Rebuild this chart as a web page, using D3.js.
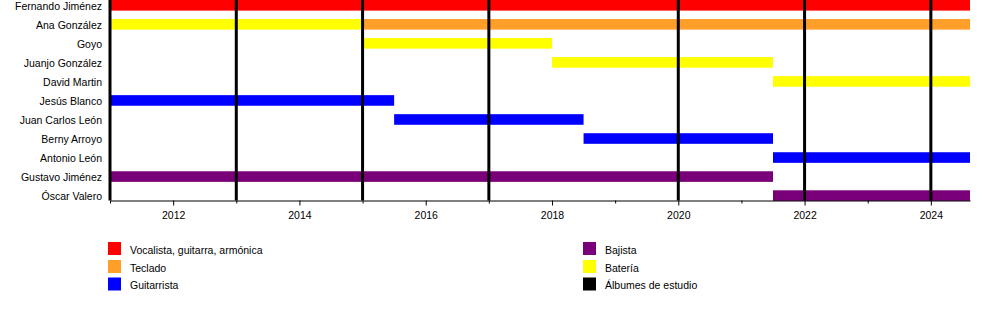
<!DOCTYPE html>
<html>
<head>
<meta charset="utf-8">
<script src="https://cdn.jsdelivr.net/npm/d3@7"></script>
<style>
    body { margin: 0; background: #fff; }
    svg text { font-family: "Liberation Sans", Arial, sans-serif; fill: #000; }
</style>
</head>
<body>
<div id="chart"></div>
<script>
// Band members, top to bottom
const members = [
    'Fernando Jiménez', 'Ana González', 'Goyo', 'Juanjo González', 'David Martin',
    'Jesús Blanco', 'Juan Carlos León', 'Berny Arroyo', 'Antonio León',
    'Gustavo Jiménez', 'Óscar Valero'
];

// Roles and their colours (legend order)
const roles = ['Vocalista, guitarra, armónica', 'Teclado', 'Guitarrista', 'Bajista', 'Batería'];
const roleColors = ['#ff0000', '#ff9f2a', '#0000ff', '#7a007a', '#ffff00'];

// Timeline range
const timelineStart = 2011;
const timelineEnd = 2024.62;

// Membership periods: [member, role, from, to]
const periods = [
    ['Fernando Jiménez', 'Vocalista, guitarra, armónica', 2011, timelineEnd],
    ['Ana González', 'Batería', 2011, 2015],
    ['Ana González', 'Teclado', 2015, timelineEnd],
    ['Goyo', 'Batería', 2015, 2018],
    ['Juanjo González', 'Batería', 2018, 2021.5],
    ['David Martin', 'Batería', 2021.5, timelineEnd],
    ['Jesús Blanco', 'Guitarrista', 2011, 2015.5],
    ['Juan Carlos León', 'Guitarrista', 2015.5, 2018.5],
    ['Berny Arroyo', 'Guitarrista', 2018.5, 2021.5],
    ['Antonio León', 'Guitarrista', 2021.5, timelineEnd],
    ['Gustavo Jiménez', 'Bajista', 2011, 2021.5],
    ['Óscar Valero', 'Bajista', 2021.5, timelineEnd]
];

// Studio album years
const albums = [2011, 2013, 2015, 2017, 2020, 2022, 2024];

// Axis ticks
const majorYears = [2012, 2014, 2016, 2018, 2020, 2022, 2024];
const minorYears = [2011, 2013, 2015, 2017, 2019, 2021, 2023];

const width = 1000, height = 325;

const svg = d3.select('#chart').append('svg')
    .attr('width', width)
    .attr('height', height);

const x = d3.scaleLinear()
    .domain([timelineStart, timelineEnd])
    .range([110, 970]);

const y = d3.scalePoint()
    .domain(members)
    .range([5.3, 195.6]);

const color = d3.scaleOrdinal().domain(roles).range(roleColors);
const barH = 10.6;
const axisY = 200.5;

// Bars
svg.append('g').selectAll('rect')
    .data(periods)
  .enter().append('rect')
    .attr('x', d => x(d[2]))
    .attr('y', d => y(d[0]) - barH / 2)
    .attr('width', d => x(d[3]) - x(d[2]))
    .attr('height', barH)
    .attr('fill', d => color(d[1]));

// Album lines
svg.append('g').selectAll('line')
    .data(albums)
  .enter().append('line')
    .attr('x1', d => x(d))
    .attr('x2', d => x(d))
    .attr('y1', 0)
    .attr('y2', axisY)
    .attr('stroke', '#000')
    .attr('stroke-width', 3);

// Member labels
svg.append('g').selectAll('text')
    .data(members)
  .enter().append('text')
    .attr('x', 102)
    .attr('y', d => y(d) + 1)
    .attr('dy', '0.35em')
    .attr('text-anchor', 'end')
    .style('font-size', '10.5px')
    .text(d => d);

// Minor ticks
svg.append('g')
    .attr('transform', `translate(0,${axisY})`)
    .call(d3.axisBottom(x).tickValues(minorYears).tickSize(3).tickFormat(''))
    .call(g => g.select('.domain').remove());

// Major ticks + labels
const axis = svg.append('g')
    .attr('transform', `translate(0,${axisY})`)
    .call(d3.axisBottom(x).tickValues(majorYears).tickSize(5).tickSizeOuter(0).tickFormat(d3.format('d')));

axis.select('.domain').attr('stroke', '#000');
axis.selectAll('text')
    .attr('y', 11)
    .style('font-size', '10.5px')
    .style('font-family', '"Liberation Sans", Arial, sans-serif');

// Legend
const legendX = [108, 583];
const legendRowY = [248.5, 266.5, 284];
const legendItems = roles.map((r, i) => ({label: r, color: roleColors[i]}));
legendItems.push({label: 'Álbumes de estudio', color: '#000'});
const legendPos = [[0, 0], [0, 1], [0, 2], [1, 0], [1, 1], [1, 2]];

const legend = svg.append('g').selectAll('g')
    .data(legendItems)
  .enter().append('g')
    .attr('transform', (d, i) => `translate(${legendX[legendPos[i][0]]},${legendRowY[legendPos[i][1]]})`);

legend.append('rect')
    .attr('x', 0)
    .attr('y', -6.5)
    .attr('width', 13)
    .attr('height', 13)
    .attr('fill', d => d.color);

legend.append('text')
    .attr('x', 22)
    .attr('y', 1.5)
    .attr('dy', '0.35em')
    .style('font-size', '10.5px')
    .text(d => d.label);
</script>
</body>
</html>
